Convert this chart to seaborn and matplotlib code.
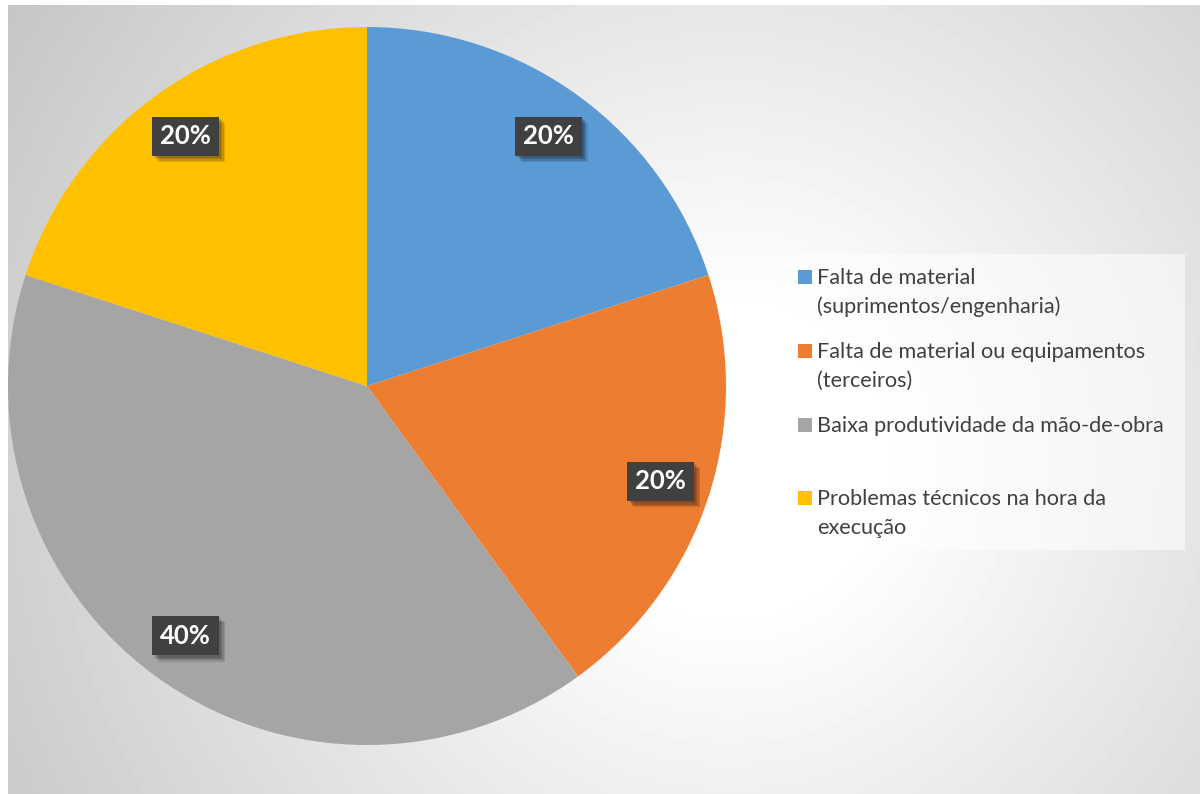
import numpy as np
import matplotlib
matplotlib.use("Agg")
import matplotlib.pyplot as plt
import matplotlib.patheffects as pe
from matplotlib.patches import Rectangle
import seaborn as sns

# Causes of delays and their shares
categories = [
    "Falta de material\n(suprimentos/engenharia)",
    "Falta de material ou equipamentos\n(terceiros)",
    "Baixa produtividade da mão-de-obra",
    "Problemas técnicos na hora da\nexecução",
]
shares = [20, 20, 40, 20]
colors = sns.color_palette(["#5B9BD5", "#ED7D31", "#A5A5A5", "#FFC000"])

sns.set_theme(style="white")
plt.rcParams["font.family"] = ["Lato", "DejaVu Sans"]

W, H = 1200, 794
fig = plt.figure(figsize=(W / 100, H / 100), dpi=100, facecolor="white")


def fx(px):
    return px / W


def fy(py):
    return 1 - py / H


# chart-area background: soft radial gradient
bg = fig.add_axes([0, 0, 1, 1], zorder=0)
bg.set_xlim(0, W)
bg.set_ylim(H, 0)
bg.axis("off")
x0, y0 = 8, 5
xx, yy = np.meshgrid(np.arange(x0, W) + 0.5, np.arange(y0, H) + 0.5)
d = np.hypot(xx - 730, yy - 460)
shade = 1 - np.clip(0.00032 * (d - 150), 0, 0.235)
bg.imshow(shade, cmap="gray", vmin=0, vmax=1, extent=(x0, W, H, y0),
          interpolation="bilinear", aspect="auto")

# pie
cx, cy, r = 367, 386, 359
ax = fig.add_axes([fx(cx - r), fy(cy + r), 2 * r / W, 2 * r / H], zorder=2)
wedges, texts, autotexts = ax.pie(
    shares, colors=colors, startangle=90, counterclock=False,
    autopct=lambda p: f"{p:.0f}%", pctdistance=0.86, radius=1,
    wedgeprops=dict(linewidth=0),
    textprops=dict(color="white", fontsize=18.5, fontweight="bold"),
)
ax.set_xlim(-1, 1)
ax.set_ylim(-1, 1)
ax.set_aspect("auto")
ax.axis("off")
for t in autotexts:
    t.set_bbox(dict(boxstyle="square,pad=0.3", facecolor="#404040",
                    edgecolor="none", linewidth=0))
    t.get_bbox_patch().set_path_effects(
        [pe.SimplePatchShadow(offset=(o, -o), shadow_rgbFace="black", alpha=0.12)
         for o in (1.5, 2.5, 3.5, 4.5)] + [pe.Normal()])

# legend panel
lg = fig.add_axes([0, 0, 1, 1], zorder=3)
lg.set_xlim(0, W)
lg.set_ylim(H, 0)
lg.axis("off")
lg.add_patch(Rectangle((785, 254), 400, 296, facecolor="white", alpha=0.55,
                       edgecolor="none"))
first_baselines = [284, 358, 432, 505]
line_step = 29
for label, col, base in zip(categories, colors, first_baselines):
    lg.add_patch(Rectangle((798, base - 14), 14, 14, facecolor=col,
                           edgecolor="none"))
    for i, line in enumerate(label.split("\n")):
        lg.text(817, base + i * line_step, line, fontsize=15.6,
                color="#404040", va="baseline", ha="left")

fig.savefig("out.png", dpi=100, facecolor="white")
